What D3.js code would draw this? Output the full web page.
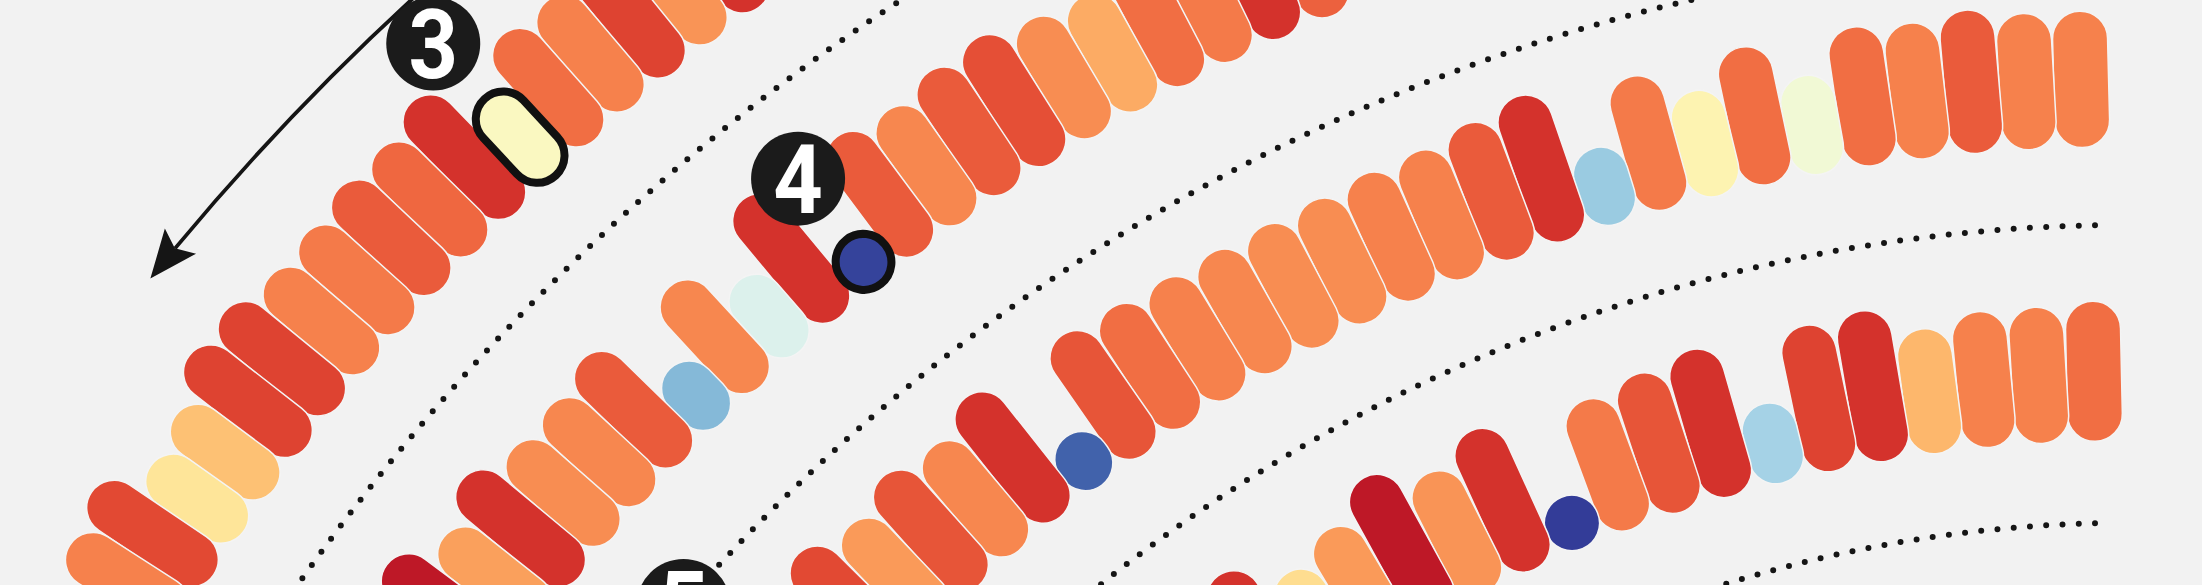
<!DOCTYPE html>
<html>
<head>
<meta charset="utf-8">
<script src="https://cdn.jsdelivr.net/npm/d3@7"></script>
<style>
  body { margin: 0; background: #f2f2f2; }
  svg { display: block; }
</style>
</head>
<body>
<svg id="chart" width="2202" height="585"></svg>
<script>
// values of each ring, listed from the 12 o'clock end going anticlockwise
const ring1Values = [90, 74, 87, 77, 80, 50, 90, 81, 83, 78, 77, 87, 87, 66, 58, 86, 77];
const ring2Values = [82, 90, 78, 80, 70, 75, 85, 83, 76, 83, 2, 90, 40, 76, 23, 83, 76, 75, 90, 72, 95];
const ring3Values = [77, 77, 83, 77, 80, 46, 80, 53, 78, 27, 90, 83, 77, 77, 75, 75, 76, 77, 80, 84, 7, 90, 76, 84, 73, 86];
const ring4Values = [80, 77, 77, 68, 90, 87, 29, 90, 84, 78, 1, 90, 74, 95, 73, 60, 90];
const rings = [ring1Values, ring2Values, ring3Values, ring4Values];

// slot of the first listed value in each ring
const ringFirstSlot = [27.27, 14.97, 0.32, 0.08];

// numbered callouts
const callouts = [
    { label: "3", ring: 0, slot: 5 },
    { label: "4", ring: 1, slot: 10 },
    { label: "5", ring: 2, slot: 27 }
];

// layout
const cx = 2126, cy = 1867;
const slotArc = 52.7;
const pillW = 55;
const calloutOffset = [180, 134, 196];
const sepRadius = [2233, 1917, 1642, 1344];
const toDeg = 180 / Math.PI;

const ringR = d3.scaleLinear().domain([0, 3]).range([2308, 1426]);
const len = d3.scalePow().exponent(1.15).domain([0, 100]).range([pillW, 165]);
const color = d3.scaleSequential(t => d3.interpolateRdYlBu(1 - t)).domain([0, 100]);

// angle in degrees, clockwise from 12 o'clock
function angle(ring, slot) {
    return -(ringFirstSlot[ring] + slot + 0.5) * slotArc / ringR(ring) * toDeg;
}

const svg = d3.select("#chart");
svg.append("rect").attr("width", 2202).attr("height", 585).attr("fill", "#f2f2f2");

const g = svg.append("g").attr("transform", `translate(${cx},${cy})`);

// dotted separators inside each ring
g.selectAll("path.sep")
    .data(sepRadius)
    .join("path")
    .attr("class", "sep")
    .attr("d", R => {
        let p = d3.path();
        p.arc(0, 0, R, -31 / R - Math.PI / 2, -1.4 - Math.PI / 2, true);
        return p.toString();
    })
    .attr("fill", "none")
    .attr("stroke", "#151515")
    .attr("stroke-width", 6)
    .attr("stroke-linecap", "round")
    .attr("stroke-dasharray", "0 16.3");

// direction arrow outside the outer ring
const arrowR = 2535;
const arrowStart = -41, arrowTip = -51.2;
const notch = 39, wingBack = 48, wingHalf = 20;
let arc = d3.path();
arc.arc(0, 0, arrowR, arrowStart / toDeg - Math.PI / 2,
    (arrowTip / toDeg + notch / arrowR) - Math.PI / 2, true);
g.append("path")
    .attr("d", arc.toString())
    .attr("fill", "none")
    .attr("stroke", "#151515")
    .attr("stroke-width", 3.8);
g.append("path")
    .attr("transform", `rotate(${arrowTip})`)
    .attr("d", `M0,${-arrowR} L${wingBack},${-arrowR - wingHalf} L${notch},${-arrowR} L${wingBack},${-arrowR + wingHalf} Z`)
    .attr("fill", "#151515");

// pills
const pills = rings.flatMap((vals, r) => vals.map((v, i) => ({ ring: r, slot: i, value: v })));
const isCallout = d => callouts.some(c => c.ring === d.ring && c.slot === d.slot);

g.selectAll("rect.pill")
    .data(pills)
    .join("rect")
    .attr("class", "pill")
    .attr("transform", d => `rotate(${angle(d.ring, d.slot)})`)
    .attr("x", -pillW / 2)
    .attr("width", pillW)
    .attr("y", d => -(ringR(d.ring) + len(d.value)))
    .attr("height", d => len(d.value))
    .attr("rx", pillW / 2)
    .attr("fill", d => color(d.value))
    .attr("stroke", d => isCallout(d) ? "#111" : "#f4f4f4")
    .attr("stroke-width", d => isCallout(d) ? 8 : 1.5);

// put highlighted pills on top
g.selectAll("rect.pill").filter(isCallout).raise();

// numbered markers
const marks = g.selectAll("g.mark")
    .data(callouts)
    .join("g")
    .attr("class", "mark")
    .attr("transform", (d, i) => {
        let a = angle(d.ring, d.slot);
        return `rotate(${a}) translate(0,${-(ringR(d.ring) + calloutOffset[i])}) rotate(${-a})`;
    });

marks.append("circle")
    .attr("r", 47)
    .attr("fill", "#1b1b1b");

marks.append("text")
    .attr("transform", "scale(0.9,1)")
    .attr("y", 34)
    .attr("text-anchor", "middle")
    .attr("font-family", "Roboto, 'Liberation Sans', sans-serif")
    .attr("font-weight", 700)
    .attr("font-size", 96)
    .attr("fill", "#fff")
    .text(d => d.label);
</script>
</body>
</html>
